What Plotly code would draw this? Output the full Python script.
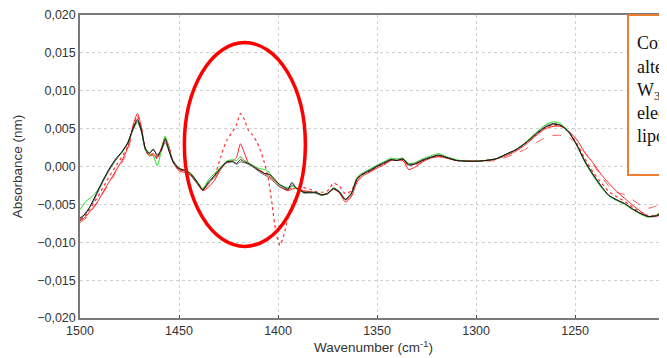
import plotly.graph_objects as go

wavenumber = [1500, 1497, 1494, 1491, 1488, 1485, 1482, 1479, 1476, 1473, 1471, 1469, 1467, 1465, 1463, 1461,
              1459, 1457, 1455, 1453, 1450, 1447, 1444, 1441, 1438, 1435, 1432, 1429, 1426, 1423, 1421, 1419,
              1417, 1415, 1413, 1411, 1409, 1407, 1405, 1403, 1401, 1399, 1397, 1395, 1393, 1391, 1389, 1387,
              1384, 1381, 1378, 1375, 1372, 1369, 1366, 1363, 1360, 1357, 1354, 1350, 1346, 1343, 1340, 1337,
              1334, 1331, 1327, 1323, 1319, 1315, 1310, 1305, 1300, 1295, 1290, 1285, 1280, 1275, 1270, 1265,
              1261, 1257, 1253, 1249, 1245, 1241, 1237, 1233, 1229, 1225, 1221, 1217, 1213, 1209, 1205, 1201]

black = [-0.0068, -0.0062, -0.0048, -0.0032, -0.0016, -0.0002, 0.0010, 0.0019, 0.0031, 0.0052, 0.0062, 0.0048,
         0.0024, 0.0017, 0.0023, 0.0014, 0.0022, 0.0036, 0.0020, 0.0006, -0.0003, -0.0005, -0.0010, -0.0020,
         -0.0031, -0.0020, -0.0012, -0.0002, 0.0006, 0.0007, 0.0004, 0.0009, 0.0006, 0.0004, 0.0001, -0.0003,
         -0.0006, -0.0009, -0.0010, -0.0013, -0.0019, -0.0024, -0.0027, -0.0030, -0.0021, -0.0028, -0.0031, -0.0034,
         -0.0034, -0.0034, -0.0037, -0.0036, -0.0029, -0.0034, -0.0044, -0.0036, -0.0016, -0.0010, -0.0006, 0.0000,
         0.0005, 0.0009, 0.0008, 0.0010, 0.0002, 0.0003, 0.0008, 0.0012, 0.0015, 0.0012, 0.0008, 0.0007,
         0.0007, 0.0008, 0.0010, 0.0016, 0.0022, 0.0031, 0.0042, 0.0052, 0.0056, 0.0054, 0.0045, 0.0028,
         0.0007, -0.0010, -0.0025, -0.0038, -0.0044, -0.0049, -0.0056, -0.0062, -0.0066, -0.0065, -0.0060, -0.0055]

dark_grey = [-0.0072, -0.0060, -0.0050, -0.0034, -0.0018, -0.0004, 0.0008, 0.0018, 0.0030, 0.0050, 0.0060, 0.0046,
             0.0024, 0.0018, 0.0022, 0.0016, 0.0020, 0.0032, 0.0020, 0.0008, -0.0002, -0.0006, -0.0012, -0.0022,
             -0.0030, -0.0022, -0.0012, -0.0003, 0.0005, 0.0006, 0.0003, 0.0006, 0.0005, 0.0003, 0.0000, -0.0004,
             -0.0008, -0.0011, -0.0014, -0.0018, -0.0023, -0.0027, -0.0029, -0.0031, -0.0024, -0.0028, -0.0031, -0.0035,
             -0.0035, -0.0035, -0.0038, -0.0035, -0.0029, -0.0033, -0.0043, -0.0035, -0.0015, -0.0009, -0.0005, 0.0001,
             0.0006, 0.0009, 0.0008, 0.0010, 0.0003, 0.0004, 0.0009, 0.0012, 0.0015, 0.0012, 0.0008, 0.0007,
             0.0007, 0.0008, 0.0010, 0.0016, 0.0022, 0.0031, 0.0043, 0.0053, 0.0057, 0.0054, 0.0044, 0.0027,
             0.0006, -0.0011, -0.0026, -0.0038, -0.0044, -0.0049, -0.0056, -0.0062, -0.0066, -0.0065, -0.0060, -0.0055]

green = [-0.0057, -0.0046, -0.0040, -0.0031, -0.0017, -0.0003, 0.0009, 0.0018, 0.0030, 0.0050, 0.0058, 0.0046,
         0.0022, 0.0016, 0.0014, 0.0001, 0.0020, 0.0040, 0.0022, 0.0006, -0.0002, -0.0005, -0.0009, -0.0019,
         -0.0029, -0.0017, -0.0009, -0.0001, 0.0007, 0.0009, 0.0008, 0.0013, 0.0008, 0.0005, 0.0002, -0.0001,
         -0.0003, -0.0004, -0.0006, -0.0014, -0.0020, -0.0025, -0.0027, -0.0028, -0.0026, -0.0029, -0.0032, -0.0034,
         -0.0034, -0.0035, -0.0038, -0.0036, -0.0028, -0.0033, -0.0043, -0.0035, -0.0014, -0.0008, -0.0004, 0.0002,
         0.0007, 0.0011, 0.0010, 0.0011, 0.0004, 0.0005, 0.0010, 0.0014, 0.0017, 0.0013, 0.0009, 0.0007,
         0.0007, 0.0008, 0.0010, 0.0016, 0.0022, 0.0032, 0.0044, 0.0055, 0.0059, 0.0056, 0.0045, 0.0027,
         0.0005, -0.0012, -0.0027, -0.0039, -0.0045, -0.0050, -0.0057, -0.0063, -0.0067, -0.0064, -0.0058, -0.0052]

red_solid = [-0.0072, -0.0066, -0.0056, -0.0046, -0.0032, -0.0019, -0.0006, 0.0007, 0.0024, 0.0056, 0.0070, 0.0052,
             0.0022, 0.0014, 0.0015, 0.0012, 0.0024, 0.0038, 0.0026, 0.0006, -0.0006, -0.0008, -0.0012, -0.0022,
             -0.0032, -0.0027, -0.0018, -0.0004, 0.0005, 0.0007, 0.0012, 0.0030, 0.0018, 0.0005, 0.0001, -0.0002,
             -0.0006, -0.0009, -0.0012, -0.0016, -0.0021, -0.0027, -0.0030, -0.0032, -0.0030, -0.0029, -0.0030, -0.0032,
             -0.0033, -0.0035, -0.0038, -0.0036, -0.0030, -0.0035, -0.0047, -0.0040, -0.0020, -0.0012, -0.0008, -0.0002,
             0.0003, 0.0008, 0.0008, 0.0008, -0.0004, -0.0001, 0.0006, 0.0011, 0.0013, 0.0011, 0.0008, 0.0008,
             0.0007, 0.0008, 0.0010, 0.0014, 0.0020, 0.0029, 0.0040, 0.0050, 0.0053, 0.0053, 0.0046, 0.0035,
             0.0018, 0.0005, -0.0010, -0.0022, -0.0033, -0.0042, -0.0051, -0.0059, -0.0066, -0.0066, -0.0061, -0.0056]

red_dashed = [-0.0074, -0.0068, -0.0058, -0.0047, -0.0034, -0.0021, -0.0008, 0.0004, 0.0020, 0.0050, 0.0064, 0.0050,
              0.0022, 0.0015, 0.0017, 0.0012, 0.0022, 0.0034, 0.0022, 0.0004, -0.0004, -0.0007, -0.0011, -0.0021,
              -0.0031, -0.0024, -0.0015, -0.0003, 0.0005, 0.0007, 0.0007, 0.0012, 0.0008, 0.0005, 0.0002, -0.0002,
              -0.0005, -0.0008, -0.0011, -0.0015, -0.0020, -0.0026, -0.0029, -0.0031, -0.0028, -0.0029, -0.0031, -0.0033,
              -0.0033, -0.0034, -0.0037, -0.0035, -0.0029, -0.0034, -0.0045, -0.0038, -0.0019, -0.0011, -0.0007, -0.0001,
              0.0004, 0.0008, 0.0007, 0.0008, 0.0000, 0.0001, 0.0007, 0.0011, 0.0013, 0.0011, 0.0008, 0.0007,
              0.0007, 0.0007, 0.0008, 0.0012, 0.0017, 0.0023, 0.0031, 0.0038, 0.0041, 0.0041, 0.0038, 0.0030,
              0.0018, 0.0003, -0.0012, -0.0026, -0.0034, -0.0037, -0.0044, -0.0051, -0.0055, -0.0052, -0.0048, -0.0044]

red_dotted = [-0.0070, -0.0064, -0.0052, -0.0040, -0.0026, -0.0012, 0.0000, 0.0012, 0.0026, 0.0054, 0.0066, 0.0050,
              0.0022, 0.0015, 0.0017, 0.0010, 0.0022, 0.0036, 0.0024, 0.0006, -0.0004, -0.0006, -0.0010, -0.0020,
              -0.0029, -0.0022, -0.0012, 0.0012, 0.0034, 0.0046, 0.0055, 0.0070, 0.0062, 0.0048, 0.0042, 0.0034,
              0.0022, 0.0006, -0.0015, -0.0050, -0.0088, -0.0104, -0.0090, -0.0068, -0.0052, -0.0040, -0.0032, -0.0028,
              -0.0030, -0.0033, -0.0034, -0.0032, -0.0022, -0.0026, -0.0036, -0.0032, -0.0016, -0.0010, -0.0006, 0.0000,
              0.0005, 0.0009, 0.0008, 0.0009, 0.0002, 0.0003, 0.0008, 0.0012, 0.0014, 0.0012, 0.0008, 0.0007,
              0.0007, 0.0008, 0.0010, 0.0016, 0.0022, 0.0031, 0.0042, 0.0051, 0.0055, 0.0053, 0.0045, 0.0030,
              0.0010, -0.0007, -0.0021, -0.0033, -0.0040, -0.0046, -0.0054, -0.0060, -0.0065, -0.0064, -0.0059, -0.0054]

y_ticks = [-0.020, -0.015, -0.010, -0.005, 0.000, 0.005, 0.010, 0.015, 0.020]
x_ticks = [1500, 1450, 1400, 1350, 1300, 1250]
note_lines = ["Consistent", "alterations in", "W<sub>3</sub> region and", "electrolyte and", "lipoprotein"]

series = [
    (red_dashed, "#ff5a5a", "dash", 1.0),
    (red_dotted, "#ff3030", "dot", 1.2),
    (red_solid, "#ff2020", "solid", 1.0),
    (green, "#22dd22", "solid", 1.0),
    (dark_grey, "#555555", "solid", 0.9),
    (black, "#111111", "solid", 1.0),
]

fig = go.Figure()
for vals, col, dash, w in series:
    fig.add_trace(go.Scatter(x=wavenumber, y=vals, mode="lines",
                             line=dict(color=col, dash=dash, width=w, shape="spline", smoothing=0.6),
                             showlegend=False, hoverinfo="skip"))

# red ellipse highlighting the anomaly
fig.add_shape(type="circle", xref="x", yref="y", x0=1447.3, x1=1386.2, y0=-0.01055, y1=0.01636,
              line=dict(color="#ff0000", width=3.5), layer="above")

# text box (cut by the window edge)
fig.add_shape(type="rect", xref="paper", yref="paper", x0=0.9336, x1=1.3, y0=0.472, y1=1.0,
              line=dict(color="#ED7D31", width=2), fillcolor="white", layer="above")
ys_px = [43, 67, 91, 113, 136]
for t, py in zip(note_lines, ys_px):
    fig.add_annotation(xref="paper", yref="paper", x=0.9455, y=(318 - py) / 303, text=t,
                       showarrow=False, xanchor="left", yanchor="middle",
                       font=dict(family="Liberation Serif", size=18, color="#111111"))

# page body has an 8px margin, so the figure is sized to the remaining window
fig.update_layout(
    width=659, height=350,
    margin=dict(l=71.5, r=0, t=7, b=40, autoexpand=False),
    paper_bgcolor="white", plot_bgcolor="white",
    separators=", ",
    font=dict(family="Liberation Sans, Arial", size=12.5, color="#333333"),
)
fig.update_xaxes(range=[1500, 1203.6], tickvals=x_ticks, ticktext=[str(v) for v in x_ticks],
                 showgrid=True, gridcolor="#d0d0d0", griddash="dot", gridwidth=1,
                 showline=True, linecolor="#7a7a7a", linewidth=1.5, mirror=True,
                 ticks="inside", ticklen=3, tickcolor="#444", zeroline=False, automargin=False,
                 tickfont=dict(size=12.5, color="#333"),
                 title=dict(text="Wavenumber (cm<sup>-1</sup>)", font=dict(size=13.5, color="#333"), standoff=3))
fig.update_yaxes(range=[-0.020, 0.020], tickvals=y_ticks, tickformat=".3f",
                 showgrid=True, gridcolor="#d0d0d0", griddash="dot", gridwidth=1,
                 showline=True, linecolor="#7a7a7a", linewidth=1.5, zeroline=False, automargin=False,
                 ticks="", tickfont=dict(size=12.5, color="#333"),
                 title=dict(text="Absorbance (nm)", font=dict(size=13.5, color="#333"), standoff=11))

fig.write_html("out.html")
